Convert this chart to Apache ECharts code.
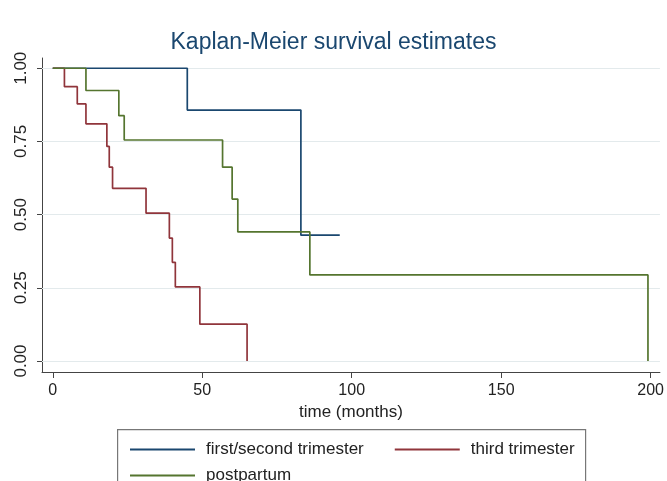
<!DOCTYPE html>
<html>
<head>
<meta charset="utf-8">
<script src="https://cdn.jsdelivr.net/npm/echarts@6/dist/echarts.min.js"></script>
<style>
html,body{margin:0;padding:0;background:#fff;}
#chart{width:667px;height:481px;}
</style>
</head>
<body>
<div id="chart"></div>
<script>
// ---- data ----
var seriesNames = ['first/second trimester', 'third trimester', 'postpartum'];
// first/second trimester: event times (months) and survival after each step
var firstSecondTimes = [0, 45, 83, 96];
var firstSecondSurv  = [1.00, 0.857, 0.430, 0.430];
// third trimester
var thirdTimes = [0, 3.9, 8.2, 11.1, 18.1, 18.9, 20.0, 31.2, 39.0, 40.0, 41.0, 49.2, 65.0];
var thirdSurv  = [1.00, 0.937, 0.878, 0.810, 0.733, 0.662, 0.590, 0.505, 0.420, 0.337, 0.253, 0.126, 0.00];
// postpartum
var postTimes = [0, 11.1, 22.1, 23.9, 56.8, 60.0, 61.9, 86.0, 199.1];
var postSurv  = [1.00, 0.924, 0.838, 0.755, 0.662, 0.553, 0.441, 0.294, 0.00];
// axis ticks
var xTicks = [0, 50, 100, 150, 200];
var yTicks = [0, 0.25, 0.5, 0.75, 1];
var titleText = 'Kaplan-Meier survival estimates';
var xAxisTitle = 'time (months)';

function pairs(t, s) { return t.map(function (v, i) { return [v, s[i]]; }); }

var colors = ['#1A476F', '#90353B', '#55752F'];
var font = 'Liberation Sans, Arial, Helvetica, sans-serif';

var chart = echarts.init(document.getElementById('chart'), null, {renderer: 'canvas'});
var lineW = 1.7;
function stepSeries(name, data, color, z) {
  return {
    name: name, type: 'line', step: 'end', data: data,
    symbol: 'none', z: z, animation: false,
    lineStyle: {color: color, width: lineW},
    itemStyle: {color: color}
  };
}
var option = {
  backgroundColor: '#ffffff',
  animation: false,
  title: {
    text: titleText, left: 'center', top: 26,
    textStyle: {fontFamily: font, fontSize: 23, fontWeight: 'normal', color: '#1A476F'}
  },
  grid: {left: 42, right: 5, top: 58, bottom: 109, containLabel: false},
  xAxis: {
    type: 'value', min: -3.6, max: 203.1,
    axisLine: {show: true, onZero: false, lineStyle: {color: '#444', width: 1}},
    axisTick: {show: true, length: 6, customValues: xTicks, lineStyle: {color: '#444'}},
    axisLabel: {customValues: xTicks, margin: 11, fontFamily: font, fontSize: 16, color: '#222'},
    splitLine: {show: false},
    name: xAxisTitle, nameLocation: 'middle', nameGap: 29,
    nameTextStyle: {fontFamily: font, fontSize: 17, color: '#222'}
  },
  yAxis: {
    type: 'value', min: -0.0375, max: 1.035,
    axisLine: {show: true, onZero: false, lineStyle: {color: '#444', width: 1}},
    axisTick: {show: true, length: 5, customValues: yTicks, lineStyle: {color: '#444'}},
    axisLabel: {customValues: yTicks, rotate: 90, margin: 12, fontFamily: font, fontSize: 17, color: '#222',
      formatter: function (v) { return v.toFixed(2); }},
    splitLine: {show: false}
  },
  legend: [{
    data: [seriesNames[0], seriesNames[1]],
    left: 125, top: 436, orient: 'horizontal',
    itemWidth: 65, itemHeight: 2, itemGap: 31, icon: 'rect',
    textStyle: {fontFamily: font, fontSize: 17, color: '#222', padding: [0, 0, 0, 6]}
  }, {
    data: [seriesNames[2]],
    left: 125, top: 462, orient: 'horizontal',
    itemWidth: 65, itemHeight: 2, icon: 'rect',
    textStyle: {fontFamily: font, fontSize: 17, color: '#222', padding: [0, 0, 0, 6]}
  }],
  graphic: [{
    type: 'rect', left: 117, top: 429, z: -1,
    shape: {width: 468, height: 70},
    style: {fill: '#fff', stroke: '#777', lineWidth: 1.2}
  }],
  series: [
    {
      name: 'gridlines', type: 'line', data: [], z: 1, silent: true,
      markLine: {
        z: 1, silent: true, symbol: 'none', label: {show: false}, animation: false,
        lineStyle: {color: '#e3eaec', width: 1.2, type: 'solid'},
        data: yTicks.map(function (v) { return {yAxis: v}; })
      }
    },
    stepSeries(seriesNames[0], pairs(firstSecondTimes, firstSecondSurv), colors[0], 10),
    stepSeries(seriesNames[1], pairs(thirdTimes, thirdSurv), colors[1], 11),
    stepSeries(seriesNames[2], pairs(postTimes, postSurv), colors[2], 12)
  ]
};
chart.setOption(option);
</script>
</body>
</html>
